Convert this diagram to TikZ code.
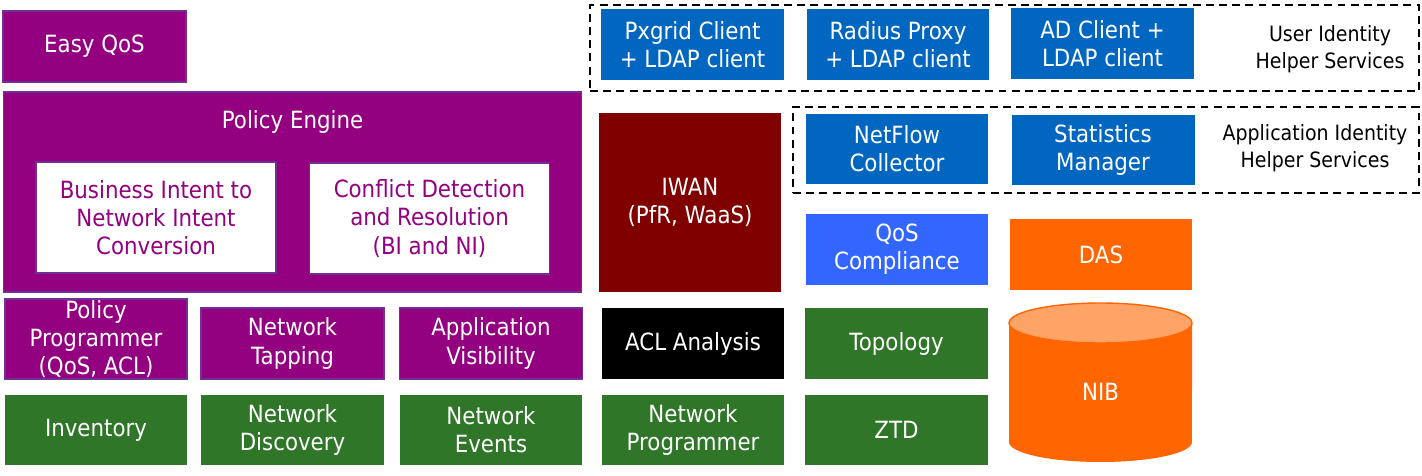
\documentclass[tikz,border=0pt]{standalone}
\usepackage{fontspec}
\setmainfont{DejaVu Sans}[FakeStretch=0.9]
\usetikzlibrary{positioning}

\definecolor{apppurple}{HTML}{930080}
\definecolor{purpleedge}{HTML}{6E3092}
\definecolor{helperblue}{HTML}{0066C0}
\definecolor{qosblue}{HTML}{3366FF}
\definecolor{basegreen}{HTML}{2F7629}
\definecolor{iwanred}{HTML}{800000}
\definecolor{storeorange}{HTML}{FF6600}
\definecolor{storecap}{HTML}{FFA366}

\begin{document}
\begin{tikzpicture}[x=0.02cm, y=-0.02cm,
    box/.style={rectangle, minimum width=3.66cm, minimum height=1.42cm, inner sep=0pt,
        align=center, text=white, font=\fontsize{13.5}{16}\selectfont},
    purplebox/.style={box, fill=apppurple, draw=purpleedge, line width=0.6pt},
    whitebox/.style={box, fill=white, draw=purpleedge, line width=0.6pt, text=apppurple,
        minimum width=4.8cm, minimum height=2.22cm},
    bluebox/.style={box, fill=helperblue},
    greenbox/.style={box, fill=basegreen},
    helperbox/.style={rectangle, draw=black, line width=1.1pt, dash pattern=on 4.5pt off 3pt},
    helpertext/.style={align=center, text=black, font=\fontsize{12}{15.5}\selectfont}]

\useasboundingbox (0,0) rectangle (1422,476);

% Policy side
\node[purplebox] (easyqos) at (94.5,46.5) {Easy QoS};
\node[purplebox, minimum width=11.58cm, minimum height=4cm] (engine) at (292.5,192) {};
\node[box, minimum height=0pt] (enginelbl) at (292.5,122) {Policy Engine};
\node[whitebox] (bizintent) at (156,217.5) {Business Intent to\\Network Intent\\Conversion};
\node[whitebox] (conflict) at (429.5,218.5) {Conflict Detection\\and Resolution\\(BI and NI)};

\node[purplebox, minimum width=3.64cm, minimum height=1.6cm, inner ysep=-4pt] (programmer) at (96,339) {Policy\\Programmer\\(QoS, ACL)};
\node[purplebox] (tapping) at (292.5,343.5) {Network\\Tapping};
\node[purplebox] (appvis) at (491,343.5) {Application\\Visibility};
\node[box, fill=black, minimum width=3.64cm] (acl) at (693,343.5) {ACL Analysis};
\node[greenbox] (topology) at (896.5,343.5) {Topology};

% Base services
\node[greenbox, minimum width=3.64cm] (inventory) at (96,430) {Inventory};
\node[greenbox] (discovery) at (292.5,430) {Network\\Discovery};
\node[greenbox] (events) at (491,430) {Network\\Events};
\node[greenbox, minimum width=3.64cm] (netprog) at (693,430) {Network\\Programmer};
\node[greenbox] (ztd) at (896.5,430) {ZTD};

% IWAN
\node[box, fill=iwanred, minimum width=3.64cm, minimum height=3.58cm] (iwan) at (690,202.5) {IWAN\\(PfR, WaaS)};

% User identity helpers
\node[helperbox, minimum width=16.58cm, minimum height=1.72cm] (userhelp) at (1004.5,48) {};
\node[bluebox] (pxgrid) at (692.5,44.5) {Pxgrid Client\\+ LDAP client};
\node[bluebox] (radius) at (898,44.5) {Radius Proxy\\+ LDAP client};
\node[bluebox] (adclient) at (1102.5,43.5) {AD Client +\\LDAP client};
\node[helpertext] (useridtxt) at (1330,49.5) {User Identity\\Helper Services};

% Application identity helpers
\node[helperbox, minimum width=12.52cm, minimum height=1.72cm] (apphelp) at (1106,150) {};
\node[bluebox, minimum width=3.64cm, minimum height=1.4cm] (netflow) at (897,149) {NetFlow\\Collector};
\node[bluebox, minimum height=1.4cm] (stats) at (1103,150) {Statistics\\Manager};
\node[helpertext] (appidtxt) at (1315,148) {Application Identity\\Helper Services};

% Compliance and stores
\node[box, fill=qosblue, minimum width=3.64cm] (qoscomp) at (897,249.5) {QoS\\Compliance};
\node[box, fill=storeorange, minimum width=3.64cm] (das) at (1101,254.5) {DAS};

\fill[storeorange] (1009,323) -- (1009,442)
    arc[start angle=180, end angle=360, x radius=1.83cm, y radius=0.4cm]
    -- (1192,323)
    arc[start angle=0, end angle=180, x radius=1.83cm, y radius=0.4cm] -- cycle;
\filldraw[fill=storecap, draw=storeorange, line width=0.8pt] (1100.5,323) ellipse[x radius=1.83cm, y radius=0.4cm];
\node[box, minimum height=0pt] (nib) at (1100.5,392) {NIB};

\end{tikzpicture}
\end{document}
